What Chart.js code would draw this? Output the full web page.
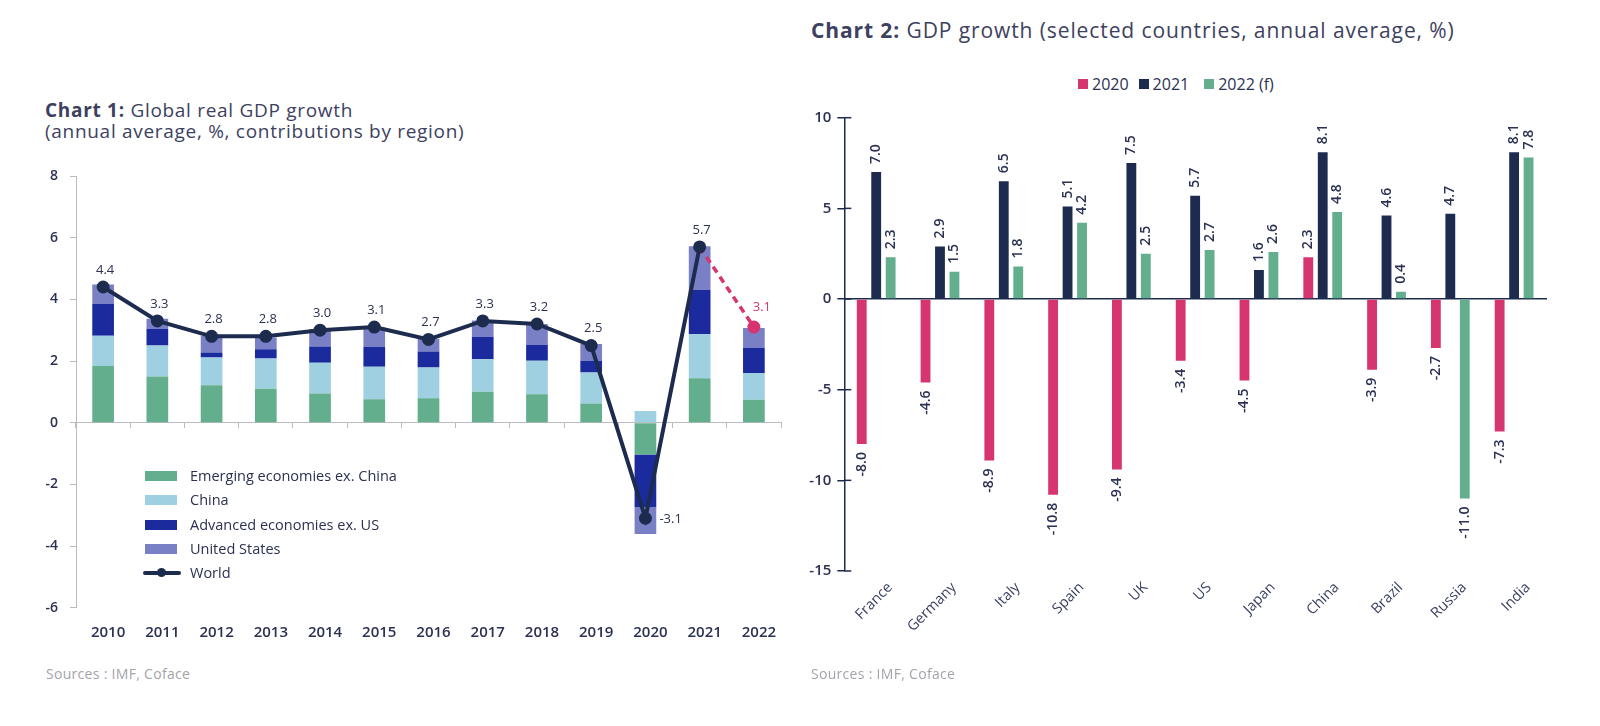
<!DOCTYPE html>
<html>
<head>
<meta charset="utf-8">
<script src="https://cdn.jsdelivr.net/npm/chart.js@4.4.1/dist/chart.umd.min.js"></script>
<style>
    body { margin: 0; background: #fff; width: 1600px; height: 726px; position: relative; overflow: hidden; font-family: "Open Sans", sans-serif; color: #3d4160; }
    .title { position: absolute; font-size: 19px; line-height: 21px; letter-spacing: 0.7px; white-space: nowrap; }
    .title b { font-weight: 700; }
    .source { position: absolute; font-size: 14px; letter-spacing: 0.3px; color: #a3a3ab; white-space: nowrap; }
    canvas { position: absolute; }
    .leg1 { position: absolute; left: 145px; font-size: 14.5px; color: #2b3152; white-space: nowrap; }
    .leg1 span.sw { position: absolute; left: 0; width: 32px; height: 10px; top: -5px; }
    .leg1 span.tx { position: absolute; left: 45px; top: -10px; line-height: 20px; }
    #legend2 { position: absolute; left: 1078px; top: 71px; font-size: 16px; color: #2b3152; white-space: nowrap; }
    #legend2 span { display: inline-block; vertical-align: middle; }
    #legend2 .sq { width: 10px; height: 10px; margin-right: 4px; }
</style>
</head>
<body>
<div class="title" style="left:45px; top:100px;"><b>Chart 1:</b> Global real GDP growth<br>(annual average, %, contributions by region)</div>
<div class="title" style="left:811px; top:20px; font-size:21px; letter-spacing:0.9px;"><b>Chart 2:</b> GDP growth (selected countries, annual average, %)</div>

<canvas id="chart1" width="775" height="500" style="left:20px; top:150px;"></canvas>
<canvas id="chart2" width="780" height="570" style="left:780px; top:100px;"></canvas>

<div id="legend1"></div>
<div id="legend2"></div>

<div class="source" style="left:46px; top:664px;">Sources : IMF, Coface</div>
<div class="source" style="left:811px; top:664px;">Sources : IMF, Coface</div>

<script>
// chart 1 data - contributions by region (pp)
var years = ['2010', '2011', '2012', '2013', '2014', '2015', '2016', '2017', '2018', '2019', '2020', '2021', '2022'];
var emerging = [1.84, 1.50, 1.21, 1.10, 0.95, 0.76, 0.79, 1.00, 0.92, 0.62, -1.03, 1.44, 0.74];
var china = [0.98, 1.00, 0.90, 0.98, 0.99, 1.05, 1.00, 1.06, 1.09, 1.01, 0.38, 1.43, 0.87];
var advanced = [1.03, 0.55, 0.17, 0.30, 0.53, 0.65, 0.52, 0.73, 0.52, 0.38, -1.71, 1.44, 0.81];
var unitedStates = [0.63, 0.32, 0.54, 0.38, 0.57, 0.63, 0.40, 0.52, 0.67, 0.54, -0.87, 1.41, 0.65];
var world = [4.4, 3.3, 2.8, 2.8, 3.0, 3.1, 2.7, 3.3, 3.2, 2.5, -3.1, 5.7, 3.1];
var worldForecast = [false, false, false, false, false, false, false, false, false, false, false, false, true];

// chart 2 data
var countries = ['France', 'Germany', 'Italy', 'Spain', 'UK', 'US', 'Japan', 'China', 'Brazil', 'Russia', 'India'];
var gdp2020 = [-8.0, -4.6, -8.9, -10.8, -9.4, -3.4, -4.5, 2.3, -3.9, -2.7, -7.3];
var gdp2021 = [7.0, 2.9, 6.5, 5.1, 7.5, 5.7, 1.6, 8.1, 4.6, 4.7, 8.1];
var gdp2022 = [2.3, 1.5, 1.8, 4.2, 2.5, 2.7, 2.6, 4.8, 0.4, -11.0, 7.8];

var GREEN = '#62ae8d';
var LIGHTBLUE = '#9fd0e2';
var DARKBLUE = '#1b2b9e';
var PERIWINKLE = '#7a80c6';
var NAVY = '#1d2c4e';
var PINK = '#d6356f';
var TEXT = '#2b3152';
var FONT = '"Open Sans", sans-serif';

// legends (html)
var legend1Items = [
    { label: 'Emerging economies ex. China', color: GREEN },
    { label: 'China', color: LIGHTBLUE },
    { label: 'Advanced economies ex. US', color: DARKBLUE },
    { label: 'United States', color: PERIWINKLE },
    { label: 'World', color: NAVY, line: true }
];
var leg1 = document.getElementById('legend1');
legend1Items.forEach(function(item, i) {
    var row = document.createElement('div');
    row.className = 'leg1';
    row.style.top = (476 + i * 24.3) + 'px';
    if (item.line) {
        row.innerHTML = '<span class="sw" style="left:-2px;width:38px;height:4px;top:-2px;background:' + item.color + ';border-radius:2px"></span>' +
            '<span class="sw" style="left:12px;width:9px;height:9px;top:-5px;border-radius:50%;background:' + item.color + '"></span>' +
            '<span class="tx">' + item.label + '</span>';
    } else {
        row.innerHTML = '<span class="sw" style="background:' + item.color + '"></span><span class="tx">' + item.label + '</span>';
    }
    leg1.appendChild(row);
});

var legend2Items = [
    { label: '2020', color: PINK },
    { label: '2021', color: NAVY },
    { label: '2022 (f)', color: GREEN }
];
var leg2 = document.getElementById('legend2');
legend2Items.forEach(function(item, i) {
    leg2.innerHTML += '<span class="sq" style="background:' + item.color + (i > 0 ? ';margin-left:' + (i == 2 ? 15 : 10) + 'px' : '') + '"></span><span>' + item.label + '</span>';
});

// labels above the world line points
var worldLabels = {
    id: 'worldLabels',
    afterDatasetsDraw: function(chart) {
        var ctx = chart.ctx;
        var meta = chart.getDatasetMeta(4);
        ctx.save();
        ctx.font = '13px ' + FONT;
        ctx.textBaseline = 'middle';
        meta.data.forEach(function(pt, i) {
            var v = world[i];
            var txt = v.toFixed(1);
            if (worldForecast[i]) {
                ctx.fillStyle = PINK;
                ctx.textAlign = 'center';
                ctx.fillText(txt, pt.x + 8, pt.y - 20);
            } else if (v < 0) {
                ctx.fillStyle = TEXT;
                ctx.textAlign = 'left';
                ctx.fillText(txt, pt.x + 14, pt.y + 1);
            } else {
                ctx.fillStyle = TEXT;
                ctx.textAlign = 'center';
                ctx.fillText(txt, pt.x + 2, pt.y - 17);
            }
        });
        ctx.restore();
    }
};

// vertical value labels on the country bars
var barLabels = {
    id: 'barLabels',
    afterDatasetsDraw: function(chart) {
        var ctx = chart.ctx;
        ctx.save();
        ctx.font = '600 14px ' + FONT;
        ctx.fillStyle = TEXT;
        ctx.textBaseline = 'middle';
        chart.data.datasets.forEach(function(ds, di) {
            var meta = chart.getDatasetMeta(di);
            meta.data.forEach(function(bar, i) {
                var v = ds.data[i];
                ctx.save();
                if (v >= 0) {
                    ctx.translate(bar.x, bar.y - 8);
                    ctx.rotate(-Math.PI / 2);
                    ctx.textAlign = 'left';
                } else {
                    ctx.translate(bar.x, bar.y + 8);
                    ctx.rotate(-Math.PI / 2);
                    ctx.textAlign = 'right';
                }
                ctx.fillText(v.toFixed(1), 0, 0);
                ctx.restore();
            });
        });
        ctx.restore();
    }
};

// y axis tick marks crossing the axis line (chart 2)
var crossTicks = {
    id: 'crossTicks',
    afterDraw: function(chart) {
        var y = chart.scales.y;
        var ctx = chart.ctx;
        ctx.save();
        ctx.strokeStyle = NAVY;
        ctx.lineWidth = 1.5;
        y.ticks.forEach(function(t) {
            var py = y.getPixelForValue(t.value);
            ctx.beginPath();
            ctx.moveTo(y.right, py);
            ctx.lineTo(y.right + 7, py);
            ctx.stroke();
        });
        ctx.restore();
    }
};

var pointColors = worldForecast.map(function(f) { return f ? PINK : NAVY; });

new Chart(document.getElementById('chart1'), {
    type: 'bar',
    data: {
        labels: years,
        datasets: [
            { label: 'Emerging economies ex. China', data: emerging, backgroundColor: GREEN, order: 1 },
            { label: 'China', data: china, backgroundColor: LIGHTBLUE, order: 1 },
            { label: 'Advanced economies ex. US', data: advanced, backgroundColor: DARKBLUE, order: 1 },
            { label: 'United States', data: unitedStates, backgroundColor: PERIWINKLE, order: 1 },
            {
                type: 'line', label: 'World', data: world, stack: 'world', order: 0,
                borderColor: NAVY, borderWidth: 4, tension: 0,
                pointRadius: 4.5, pointBackgroundColor: pointColors, pointBorderColor: pointColors,
                segment: {
                    borderColor: function(c) { return worldForecast[c.p1DataIndex] ? PINK : undefined; },
                    borderDash: function(c) { return worldForecast[c.p1DataIndex] ? [7, 5] : undefined; },
                    borderWidth: function(c) { return worldForecast[c.p1DataIndex] ? 3.5 : undefined; }
                }
            }
        ]
    },
    options: {
        responsive: false,
        animation: false,
        categoryPercentage: 0.8,
        barPercentage: 0.5,
        layout: { padding: { left: 0, right: 14, top: 26, bottom: 0 } },
        plugins: { legend: { display: false }, tooltip: { enabled: false } },
        scales: {
            x: {
                stacked: true,
                grid: { display: false, drawTicks: false },
                border: { display: false },
                ticks: { color: TEXT, font: { family: FONT, size: 15, weight: '600' }, padding: 16, labelOffset: 5 },
                afterFit: function(s) { s.height = 42.3; }
            },
            x0: {
                type: 'category',
                position: { y: 0 },
                grid: { offset: true, drawOnChartArea: false, tickLength: 5, color: '#bcbcbc' },
                border: { color: '#bcbcbc' },
                ticks: { display: false }
            },
            y: {
                stacked: true,
                min: -6, max: 8,
                ticks: { stepSize: 2, color: TEXT, font: { family: FONT, size: 14, weight: '600' }, padding: 12 },
                grid: { drawOnChartArea: false, tickLength: 6, color: '#bcbcbc' },
                border: { color: '#bcbcbc' },
                afterFit: function(s) { s.width = 56; }
            }
        }
    },
    plugins: [worldLabels]
});

new Chart(document.getElementById('chart2'), {
    type: 'bar',
    data: {
        labels: countries,
        datasets: [
            { label: '2020', data: gdp2020, backgroundColor: PINK },
            { label: '2021', data: gdp2021, backgroundColor: NAVY },
            { label: '2022 (f)', data: gdp2022, backgroundColor: GREEN }
        ]
    },
    options: {
        responsive: false,
        animation: false,
        categoryPercentage: 0.68,
        barPercentage: 0.68,
        layout: { padding: { left: 0, right: 14, top: 17.7, bottom: 0 } },
        plugins: { legend: { display: false }, tooltip: { enabled: false } },
        scales: {
            x: {
                grid: { display: false, drawTicks: false },
                border: { display: false },
                ticks: { color: '#3c4264', font: { family: FONT, size: 14.5 }, minRotation: 45, maxRotation: 45, padding: 8, labelOffset: 14 },
                afterFit: function(s) { s.height = 99; }
            },
            x0: {
                type: 'category',
                position: { y: 0 },
                grid: { display: false },
                border: { color: NAVY, width: 1.5 },
                ticks: { display: false }
            },
            y: {
                min: -15, max: 10,
                ticks: { stepSize: 5, color: TEXT, font: { family: FONT, size: 15, weight: '600' }, padding: 6 },
                grid: { drawOnChartArea: false, tickLength: 7, color: NAVY, lineWidth: 1.5 },
                border: { color: NAVY, width: 1.5 },
                afterFit: function(s) { s.width = 64.3; }
            }
        }
    },
    plugins: [barLabels, crossTicks]
});
</script>
</body>
</html>
